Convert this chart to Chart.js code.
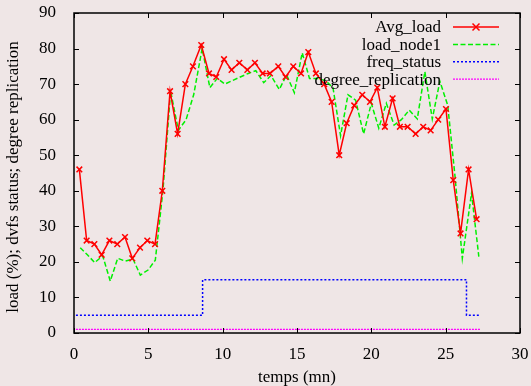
<!DOCTYPE html>
<html><head><meta charset="utf-8">
<script src="https://cdn.jsdelivr.net/npm/chart.js@4"></script>
<style>html,body{margin:0;padding:0;background:#efe6e6;}</style>
</head><body>
<canvas id="c" width="531" height="386"></canvas>
<script>
// ---- data ----
const avgTime = [0.36,0.85,1.37,1.86,2.38,2.91,3.43,3.92,4.44,4.93,5.45,5.94,6.46,6.97,7.49,8.00,8.56,9.08,9.57,10.09,10.60,11.12,11.66,12.17,12.69,13.18,13.74,14.23,14.75,15.27,15.76,16.27,16.83,17.33,17.84,18.34,18.85,19.39,19.91,20.40,20.91,21.43,21.92,22.44,22.98,23.49,23.99,24.50,25.02,25.51,26.00,26.54,27.08];
const avgLoad = [46,26,25,22,26,25,27,21,24,26,25,40,68,56,70,75,81,73,72,77,74,76,74,76,73,73,75,72,75,73,79,73,70,65,50,59,64,67,65,69,58,66,58,58,56,58,57,60,63,43,28,46,32];
const node1Time = [0.42,0.90,1.39,1.93,2.44,2.94,3.45,3.97,4.46,4.98,5.47,5.98,6.50,7.02,7.54,8.05,8.62,9.14,9.63,10.15,10.66,11.18,11.72,12.23,12.76,13.25,13.81,14.30,14.82,15.35,15.84,16.35,16.91,17.42,17.93,18.43,18.94,19.48,20.00,20.50,21.01,21.53,22.02,22.55,23.09,23.60,24.10,24.61,25.14,25.63,26.12,26.74,27.23];
const loadNode1 = [24,22,19.8,21.7,14.6,21,20.2,20.8,16.3,17.7,20.5,40,68,57,60,67,80,69,71.6,70,71,72,73,73.8,70.4,72.4,68.5,72.6,67.6,78.8,71.6,71.6,71,69,55.5,67,65.5,56,64.6,57.6,64.6,58.5,60,62.7,60.2,73.5,60.2,70.8,64,44,21,39.3,21.5];
const freqTime = [0.13,8.65,26.40,27.35];
const freqStatus = [5,15,5,5];
const replTime = [0.13,27.35];
const degreeReplication = [1,1];
const xTickValues = [0,5,10,15,20,25,30];
const yTickValues = [0,10,20,30,40,50,60,70,80,90];
const seriesNames = ['Avg_load','load_node1','freq_status','degree_replication'];
const xTitle = 'temps (mn)';
const yTitle = 'load (%); dvfs status; degree replication';

const pts = (xs, ys) => xs.map((x, i) => ({x, y: ys[i]}));
const FONT = 'Liberation Serif';
const BG = '#efe6e6';

const styles = [
  {color:'#ff0000', dash:[], width:1.5, marker:true},
  {color:'#00f000', dash:[5,2.5], width:1.5},
  {color:'#0000ff', dash:[2,2], width:1.5},
  {color:'#ff00ff', dash:[2,1], width:1.2}
];

const bgPlugin = {
  id:'bg',
  beforeDraw(chart){
    const ctx = chart.ctx;
    ctx.save(); ctx.fillStyle = BG; ctx.fillRect(0,0,chart.width,chart.height); ctx.restore();
  }
};

const framePlugin = {
  id:'frame',
  afterDatasetsDraw(chart){
    const ctx = chart.ctx, a = chart.chartArea;
    const xs = chart.scales.x, ys = chart.scales.y;
    ctx.save();
    ctx.strokeStyle = '#000'; ctx.lineWidth = 1.5; ctx.setLineDash([]);
    ctx.strokeRect(a.left, a.top, a.right - a.left, a.bottom - a.top);
    ctx.lineWidth = 1;
    const tl = 5;
    ctx.beginPath();
    xTickValues.forEach(v => {
      const px = Math.round(xs.getPixelForValue(v)) + 0.5;
      ctx.moveTo(px, a.bottom); ctx.lineTo(px, a.bottom - tl);
      ctx.moveTo(px, a.top); ctx.lineTo(px, a.top + tl);
    });
    yTickValues.forEach(v => {
      const py = Math.round(ys.getPixelForValue(v)) + 0.5;
      ctx.moveTo(a.left, py); ctx.lineTo(a.left + tl, py);
      ctx.moveTo(a.right, py); ctx.lineTo(a.right - tl, py);
    });
    ctx.stroke();

    // y axis title, centred as in the reference
    ctx.font = '17px "' + FONT + '"';
    ctx.fillStyle = '#000';
    ctx.save();
    ctx.translate(14, 177);
    ctx.rotate(-Math.PI / 2);
    ctx.textAlign = 'center'; ctx.textBaseline = 'middle';
    ctx.fillText(yTitle, 0, 0);
    ctx.restore();

    // key (legend), top right
    ctx.textAlign = 'right'; ctx.textBaseline = 'middle';
    seriesNames.forEach((name, i) => {
      const y = 27 + i * 17.4;
      const st = styles[i];
      ctx.fillStyle = '#000';
      ctx.fillText(name, 441, y + 1);
      ctx.strokeStyle = st.color; ctx.lineWidth = st.width; ctx.setLineDash(st.dash);
      ctx.beginPath(); ctx.moveTo(453, y); ctx.lineTo(499, y); ctx.stroke();
      ctx.setLineDash([]);
      if (st.marker) {
        const r = 3.5, cx = 476;
        ctx.beginPath();
        ctx.moveTo(cx - r, y - r); ctx.lineTo(cx + r, y + r);
        ctx.moveTo(cx + r, y - r); ctx.lineTo(cx - r, y + r);
        ctx.stroke();
      }
    });
    ctx.restore();
  }
};

new Chart(document.getElementById('c'), {
  type:'line',
  data:{
    datasets:[
      {label:seriesNames[0], data:pts(avgTime, avgLoad), borderColor:styles[0].color, backgroundColor:styles[0].color,
       borderWidth:1.5, pointStyle:'crossRot', pointRadius:4, pointBorderWidth:1.5, pointBorderColor:styles[0].color, tension:0, order:1},
      {label:seriesNames[1], data:pts(node1Time, loadNode1), borderColor:styles[1].color, borderDash:styles[1].dash,
       borderWidth:1.5, pointRadius:0, tension:0, order:2},
      {label:seriesNames[2], data:pts(freqTime, freqStatus), borderColor:styles[2].color, borderDash:styles[2].dash,
       borderWidth:1.5, pointRadius:0, stepped:'before', order:3},
      {label:seriesNames[3], data:pts(replTime, degreeReplication), borderColor:styles[3].color, borderDash:styles[3].dash,
       borderWidth:styles[3].width, pointRadius:0, order:4}
    ]
  },
  options:{
    responsive:false, animation:false,
    layout:{padding:{left:0, top:13, right:11, bottom:0}},
    plugins:{legend:{display:false}, tooltip:{enabled:false}},
    scales:{
      x:{type:'linear', min:0, max:30,
         afterBuildTicks(s){ s.ticks = xTickValues.map(v => ({value:v})); },
         afterFit(s){ s.height = 53; s.paddingLeft = 0; s.paddingRight = 0; },
         grid:{display:false}, border:{display:false},
         ticks:{color:'#000', font:{family:FONT, size:17}, padding:3, maxRotation:0},
         title:{display:true, text:xTitle, color:'#000', font:{family:FONT, size:17, lineHeight:1}, padding:{top:0,bottom:0}}},
      y:{type:'linear', min:0, max:90,
         afterBuildTicks(s){ s.ticks = yTickValues.map(v => ({value:v})); },
         afterFit(s){ s.width = 74; s.paddingTop = 0; s.paddingBottom = 0; },
         grid:{display:false}, border:{display:false},
         ticks:{color:'#000', font:{family:FONT, size:17}, padding:10},
         title:{display:false, text:yTitle}}
    }
  },
  plugins:[bgPlugin, framePlugin]
});
</script>
</body></html>
